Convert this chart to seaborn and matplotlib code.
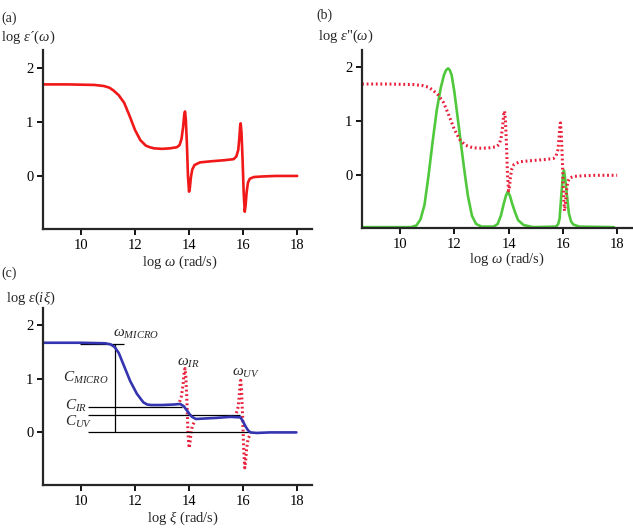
# dielectric response panels (a), (b), (c)

import pandas as pd
import seaborn as sns
import matplotlib
matplotlib.use("Agg")
import matplotlib.pyplot as plt

# log eps'(omega) - real part
eps1_x = [8.6, 9.5, 10.5, 10.85, 11.05, 11.2, 11.4, 11.6, 11.8, 12.0, 12.2, 12.4,
          12.55, 12.7, 13.0, 13.3, 13.55, 13.65, 13.72, 13.78, 13.82, 13.85,
          13.88, 13.92, 13.96, 14.0, 14.03, 14.07, 14.12, 14.2, 14.4, 14.8,
          15.3, 15.65, 15.75, 15.82, 15.86, 15.89, 15.91, 15.94, 15.98, 16.02,
          16.06, 16.09, 16.13, 16.18, 16.25, 16.4, 16.7, 17.2, 18.0]
eps1_y = [1.69, 1.69, 1.68, 1.66, 1.63, 1.58, 1.49, 1.35, 1.11, 0.85, 0.66, 0.56,
          0.53, 0.51, 0.50, 0.51, 0.53, 0.57, 0.68, 0.90, 1.12, 1.19,
          1.05, 0.60, 0.00, -0.29, -0.22, -0.02, 0.12, 0.20, 0.25, 0.27,
          0.29, 0.31, 0.36, 0.48, 0.70, 0.92, 0.97, 0.80, 0.30, -0.30,
          -0.66, -0.55, -0.30, -0.12, -0.05, -0.02, -0.01, 0.0, 0.0]

# log eps''(omega) - imaginary part
eps2_x = [8.6, 10.4, 10.6, 10.75, 10.9, 11.05, 11.2, 11.35, 11.5, 11.62, 11.7,
          11.77, 11.83, 11.9, 12.0, 12.12, 12.25, 12.38, 12.5, 12.65, 12.8,
          13.0, 13.45, 13.6, 13.72, 13.82, 13.9, 13.97, 14.05, 14.14, 14.25,
          14.35, 14.55, 14.9, 15.75, 15.83, 15.88, 15.94, 16.0, 16.04, 16.08,
          16.13, 16.22, 16.3, 16.38, 16.6, 17.88]
eps2_y = [-0.96, -0.96, -0.93, -0.82, -0.55, 0.0, 0.62, 1.20, 1.62, 1.86, 1.95,
          1.98, 1.95, 1.86, 1.55, 1.08, 0.56, 0.05, -0.38, -0.75, -0.90,
          -0.95, -0.95, -0.90, -0.74, -0.53, -0.38, -0.30, -0.38, -0.54, -0.70,
          -0.83, -0.92, -0.96, -0.95, -0.90, -0.80, -0.39, -0.02, 0.09, -0.05,
          -0.27, -0.70, -0.85, -0.91, -0.95, -0.96]

# log eps(i xi)
epsi_x = [8.6, 10.0, 10.9, 11.1, 11.25, 11.4, 11.57, 11.82, 12.07, 12.31, 12.45,
          12.6, 13.0, 13.45, 13.67, 13.8, 13.92, 14.02, 14.11, 14.25, 14.6,
          15.0, 15.53, 15.9, 15.98, 16.08, 16.18, 16.27, 16.5, 17.0, 17.97]
epsi_y = [1.67, 1.67, 1.66, 1.64, 1.59, 1.48, 1.27, 0.96, 0.72, 0.56, 0.52,
          0.51, 0.51, 0.52, 0.53, 0.49, 0.41, 0.34, 0.29, 0.25, 0.26,
          0.27, 0.29, 0.28, 0.22, 0.12, 0.04, 0.0, -0.01, 0.0, 0.0]

# guide lines in (c)
micro_x = 11.27
micro_top = 1.65
micro_hline = [9.95, 11.6]
c_levels = [0.48, 0.33, 0.0]
c_start = 10.25
c_end = [13.75, 15.9, 16.3]
ir_range = [13.6, 14.22]
uv_range = [15.75, 16.3]

df1 = pd.DataFrame({"x": eps1_x, "y": eps1_y})
df2 = pd.DataFrame({"x": eps2_x, "y": eps2_y})
dfi = pd.DataFrame({"x": epsi_x, "y": epsi_y})

sns.set_style("ticks")
plt.rcParams.update({
    "font.family": ["Liberation Serif", "DejaVu Serif"],
    "font.size": 10,
    "mathtext.fontset": "custom",
    "mathtext.rm": "Liberation Serif",
    "mathtext.it": "Liberation Serif:italic",
    "axes.linewidth": 1.6,
    "xtick.major.width": 1.3,
    "ytick.major.width": 1.3,
    "xtick.major.size": 4,
    "ytick.major.size": 4,
})

fig = plt.figure(figsize=(6.33, 5.32), dpi=100)
ax_a = fig.add_axes([0.068, 0.5695, 0.425, 0.336])
ax_b = fig.add_axes([0.572, 0.571, 0.4265, 0.335])
ax_c = fig.add_axes([0.068, 0.0883, 0.425, 0.333])

red = "#f01818"
dot_red = "#e8203c"
green = "#4fc83c"
blue = "#3434b0"

# (a)
sns.lineplot(data=df1, x="x", y="y", ax=ax_a, color=red, lw=1.9,
             sort=False, estimator=None)

# (b)
sns.lineplot(data=df2, x="x", y="y", ax=ax_b, color=green, lw=1.9,
             sort=False, estimator=None)
sns.lineplot(data=df1, x="x", y="y", ax=ax_b, color=dot_red, lw=2.2,
             ls=(0, (0.6, 0.9)), sort=False, estimator=None)

# (c)
for lo, hi in [ir_range, uv_range]:
    part = df1[(df1["x"] >= lo) & (df1["x"] <= hi)]
    sns.lineplot(data=part, x="x", y="y", ax=ax_c, color=dot_red, lw=2.2,
                 ls=(0, (0.6, 0.9)), sort=False, estimator=None)
ax_c.hlines(micro_top, micro_hline[0], micro_hline[1], color="black", lw=0.9)
ax_c.vlines(micro_x, 0, micro_top, color="black", lw=0.9)
for lev, end in zip(c_levels, c_end):
    ax_c.hlines(lev, c_start, end, color="black", lw=0.9)
sns.lineplot(data=dfi, x="x", y="y", ax=ax_c, color=blue, lw=1.9,
             sort=False, estimator=None)

ax_c.text(11.2, 1.84, r"$\omega_{MICRO}$", fontsize=11, va="center")
ax_c.text(9.35, 1.02, r"$C_{MICRO}$", fontsize=11, va="center")
ax_c.text(9.4, 0.49, r"$C_{IR}$", fontsize=11, va="center")
ax_c.text(9.4, 0.2, r"$C_{UV}$", fontsize=11, va="center")
ax_c.text(13.56, 1.3, r"$\omega_{IR}$", fontsize=11, va="center")
ax_c.text(15.6, 1.1, r"$\omega_{UV}$", fontsize=11, va="center")

for ax in [ax_a, ax_b, ax_c]:
    ax.set_xlim(8.6, 18.55)
    ax.set_ylim(-0.98, 2.32)
    ax.set_xticks([10, 12, 14, 16, 18])
    ax.set_yticks([0, 1, 2])
    ax.set_xlabel("")
    ax.set_ylabel("")
    sns.despine(ax=ax)
    ax.tick_params(labelsize=10.5, colors="black", pad=3)

fig.text(0.002, 0.966, "(a)", fontsize=10, va="center")
fig.text(0.002, 0.929, "log $\\varepsilon$\u00b4$(\\omega)$", fontsize=10.5, va="center")
fig.text(0.285, 0.507, r"log $\omega$ (rad/s)", fontsize=10.5, ha="center", va="center")

fig.text(0.500, 0.972, "(b)", fontsize=10, va="center")
fig.text(0.502, 0.931, r'log $\varepsilon$"$(\omega)$', fontsize=10.5, va="center")
fig.text(0.801, 0.512, r"log $\omega$ (rad/s)", fontsize=10.5, ha="center", va="center")

fig.text(0.002, 0.487, "(c)", fontsize=10, va="center")
fig.text(0.010, 0.440, r"log $\varepsilon(i\xi)$", fontsize=10.5, va="center")
fig.text(0.289, 0.026, r"log $\xi$ (rad/s)", fontsize=10.5, ha="center", va="center")

plt.savefig("out.png", dpi=100)
